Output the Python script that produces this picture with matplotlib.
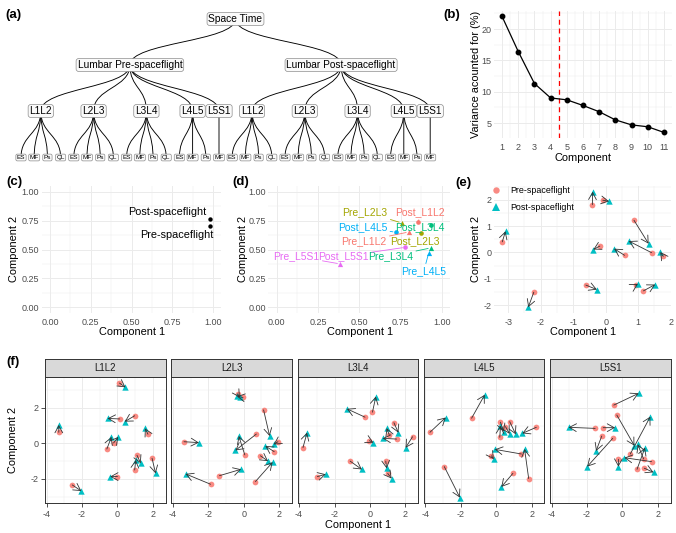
import numpy as np
import matplotlib.pyplot as plt
from matplotlib.path import Path
from matplotlib.patches import PathPatch
from matplotlib.lines import Line2D

plt.rcParams["font.family"] = ["Liberation Sans", "DejaVu Sans"]
plt.rcParams["axes.unicode_minus"] = False

W, H = 676, 533

# ---- (a) feature hierarchy
root_name = "Space Time"
time_names = ["Lumbar Pre-spaceflight", "Lumbar Post-spaceflight"]
segments = ["L1L2", "L2L3", "L3L4", "L4L5", "L5S1"]
muscles = [["ES", "MF", "Ps", "QL"], ["ES", "MF", "Ps", "QL"],
           ["ES", "MF", "Ps", "QL"], ["ES", "MF", "Ps"], ["MF"]]

# ---- (b) scree plot
components = list(range(1, 12))
variance = [22.0, 16.4, 11.3, 9.0, 8.7, 7.8, 6.8, 5.5, 4.7, 4.4, 3.5]
cutoff = 4.5

# ---- (c) space time scores
time_labels = ["Pre-spaceflight", "Post-spaceflight"]
time_c1 = [0.98, 0.98]
time_c2 = [0.700, 0.765]
time_lab_c1 = [0.776, 0.718]
time_lab_c2 = [0.629, 0.828]

# ---- (d) segment scores (pre = triangle, post = circle)
seg_pre_c1 = [0.800, 0.757, 0.933, 0.920, 0.384]
seg_pre_c2 = [0.652, 0.730, 0.514, 0.471, 0.375]
seg_post_c1 = [0.858, 0.873, 0.935, 0.720, 0.778]
seg_post_c2 = [0.739, 0.644, 0.709, 0.649, 0.519]
seg_pre_lab = [(0.529, 0.571), (0.535, 0.825), (0.690, 0.441), (0.890, 0.311), (0.120, 0.441)]
seg_post_lab = [(0.868, 0.825), (0.838, 0.571), (0.868, 0.696), (0.520, 0.696), (0.405, 0.441)]

# ---- (e) subject scores, pre -> post
subj_pre = [(-3.18, 0.40), (-2.21, -1.51), (-0.41, 1.81), (-0.09, 1.98), (0.87, 1.22), (-0.18, 0.24),
            (0.58, -0.11), (1.41, -0.01), (1.77, -0.15), (-0.61, -1.24), (0.92, -1.25), (1.16, -1.46)]
subj_post = [(-3.08, 0.80), (-2.38, -2.08), (-0.40, 2.30), (0.10, 1.94), (1.32, 0.33), (-0.38, 0.11),
             (0.26, 0.14), (0.71, 0.43), (1.68, 0.01), (-0.27, -1.41), (0.99, -1.20), (1.52, -1.22)]

# ---- (f) subject scores per segment, pre -> post
l1l2_pre = [(0.11, 3.39), (0.97, 1.55), (0.13, 1.37), (-3.31, 0.62), (1.72, 0.51), (-0.60, -0.32),
            (-0.22, 0.02), (1.10, -0.67), (0.97, -1.50), (1.95, -0.84), (0.00, -1.87), (-2.55, -2.34)]
l1l2_post = [(0.45, 3.15), (0.41, 1.22), (-0.56, 1.40), (-3.31, 1.03), (1.55, 0.84), (-0.34, 0.36),
             (0.04, 0.36), (1.31, -1.12), (1.03, -0.94), (2.15, -1.69), (-0.41, -1.87), (-2.04, -2.68)]
l2l3_pre = [(-0.35, 2.78), (-0.04, 2.58), (-3.37, 0.09), (1.12, 1.88), (0.71, 0.52), (0.06, -0.65),
            (-1.37, -1.82), (-1.87, -2.30), (0.66, -2.15), (1.93, 0.09), (1.72, -0.47), (0.94, -0.70)]
l2l3_post = [(-0.22, 2.58), (-0.38, 2.64), (-2.53, 0.04), (1.46, 0.41), (-0.47, -0.40), (-0.28, 0.41),
             (-0.15, -1.46), (-3.28, -1.72), (1.63, -1.06), (1.69, -0.06), (1.22, -0.15), (1.37, -1.00)]
l3l4_pre = [(-3.78, -0.24), (-2.97, -1.87), (-0.28, 1.47), (0.14, 1.75), (-1.12, -1.00), (-0.03, 0.15),
            (1.35, 1.16), (1.09, 0.47), (1.50, 0.24), (2.40, 0.37), (0.89, -1.00), (1.00, -1.69)]
l3l4_post = [(-3.55, 0.60), (-2.50, -1.74), (-1.30, 1.94), (0.33, 2.63), (-0.46, -1.47), (0.19, 0.04),
             (1.60, 0.60), (0.94, 0.85), (0.72, 0.28), (2.01, -0.25), (0.94, -1.41), (1.22, -1.98)]
l4l5_pre = [(-3.74, 0.62), (-1.39, 1.41), (-2.93, -1.31), (0.94, -1.69), (1.83, -1.98), (1.42, -0.60),
            (-0.27, -0.70), (2.26, 0.90), (0.20, 0.34), (0.24, 1.19), (0.52, 0.94), (0.76, 1.22)]
l4l5_post = [(-2.85, 1.45), (-0.65, 2.73), (-2.05, -3.05), (0.29, -2.45), (1.60, -0.32), (-0.08, -0.34),
             (-0.14, -0.89), (1.47, 0.56), (0.24, 0.99), (0.42, 0.66), (0.76, 0.53), (1.10, 0.51)]
l5s1_pre = [(-0.49, 2.15), (-0.32, 1.59), (-1.54, 0.84), (-1.09, 0.88), (-1.17, 0.41), (-0.55, 0.28),
            (0.44, -0.60), (-0.23, -0.90), (1.19, -0.88), (1.64, -1.03), (0.82, -1.46), (1.23, -1.40)]
l5s1_post = [(0.91, 2.81), (0.67, -0.13), (-3.04, 0.90), (-0.42, 0.88), (-1.49, -0.43), (-1.99, -1.31),
             (1.57, 1.50), (-0.23, -1.31), (0.86, -0.06), (0.11, -0.81), (1.27, -0.24), (1.75, -1.63)]
facet_pre = [l1l2_pre, l2l3_pre, l3l4_pre, l4l5_pre, l5s1_pre]
facet_post = [l1l2_post, l2l3_post, l3l4_post, l4l5_post, l5s1_post]

SEG_COLORS = ["#F8766D", "#A3A500", "#00BF7D", "#00B0F6", "#E76BF3"]
PRE_COL, POST_COL = "#F8766D", "#00BFC4"
GRID, TICK = "#EBEBEB", "#4D4D4D"

fig = plt.figure(figsize=(W / 100, H / 100), dpi=100)
renderer = fig.canvas.get_renderer()


def px_axes(left, top, right, bottom):
    return fig.add_axes([left / W, 1 - bottom / H, (right - left) / W, (bottom - top) / H])


def put_text(x, y, s, **kw):
    fig.text(x / W, 1 - y / H, s, **kw)


def expand(vals, frac=0.05):
    lo, hi = min(vals), max(vals)
    pad = (hi - lo) * frac
    return lo - pad, hi + pad


def minimal(ax, xmaj, xmin, ymaj, ymin, xlim, ylim, fmt="{:g}"):
    ax.set_xticks(xmaj)
    ax.set_xticks(xmin, minor=True)
    ax.set_yticks(ymaj)
    ax.set_yticks(ymin, minor=True)
    ax.set_xticklabels([fmt.format(v) for v in xmaj])
    ax.set_yticklabels([fmt.format(v) for v in ymaj])
    ax.set_xlim(*xlim)
    ax.set_ylim(*ylim)
    ax.grid(True, which="major", color=GRID, lw=0.7)
    ax.grid(True, which="minor", color=GRID, lw=0.35)
    ax.set_axisbelow(True)
    for sp in ax.spines.values():
        sp.set_visible(False)
    ax.tick_params(which="both", length=0, labelsize=6.5, labelcolor=TICK)
    ax.tick_params(axis="x", pad=3.5)
    ax.tick_params(axis="y", pad=2)


def draw_arrows(ax, pre, post, s_c=17, s_t=21):
    px, py = zip(*pre)
    qx, qy = zip(*post)
    ax.scatter(px, py, s=s_c, color=PRE_COL, alpha=0.85, lw=0, zorder=2)
    ax.scatter(qx, qy, s=s_t, marker="^", color=POST_COL, lw=0, zorder=2)
    for a, b in zip(pre, post):
        ax.annotate("", xy=b, xytext=a,
                    arrowprops=dict(arrowstyle="->,head_length=0.5,head_width=0.28",
                                    color="#333333", lw=0.6, shrinkA=0, shrinkB=0,
                                    mutation_scale=10), zorder=3)


# ---------------- (a) tree
tree_ax = fig.add_axes([0, 0, 1, 1])
tree_ax.set_xlim(0, W)
tree_ax.set_ylim(H, 0)
tree_ax.axis("off")
level_y = [19, 65, 111, 157.5]
leaf_x0, leaf_step = 21, 13.2


def diag(x0, y0, x1, y1):
    ym = (y0 + y1) / 2
    p = Path([(x0, y0), (x0, ym), (x1, ym), (x1, y1)],
             [Path.MOVETO, Path.CURVE4, Path.CURVE4, Path.CURVE4])
    tree_ax.add_patch(PathPatch(p, fc="none", ec="black", lw=0.65, zorder=1))


def node(x, y, s, fs):
    tree_ax.text(x, y, s, ha="center", va="center", fontsize=fs, zorder=3,
                 bbox=dict(boxstyle="round,pad=0.14,rounding_size=0.25", fc="#FAFAFA",
                           ec="#8C8C8C", lw=0.5))


leaf_i = 0
time_x = []
for tname in time_names:
    seg_x = []
    for sname, mus in zip(segments, muscles):
        lx = [leaf_x0 + leaf_step * (leaf_i + k) for k in range(len(mus))]
        leaf_i += len(mus)
        sx = (lx[0] + lx[-1]) / 2
        seg_x.append(sx)
        for x, m in zip(lx, mus):
            diag(sx, level_y[2], x, level_y[3])
            node(x, level_y[3], m, 4.6)
        node(sx, level_y[2], sname, 7.2)
    tx = (seg_x[0] + seg_x[-1]) / 2
    time_x.append(tx)
    for sx in seg_x:
        diag(tx, level_y[1], sx, level_y[2])
    node(tx, level_y[1], tname, 7.3)
rx = (time_x[0] + time_x[-1]) / 2
for tx in time_x:
    diag(rx, level_y[0], tx, level_y[1])
node(rx, level_y[0], root_name, 7.4)

# ---------------- (b) scree
axb = px_axes(494, 10.7, 672, 138.2)
minimal(axb, components, [c + 0.5 for c in components[:-1]], [5, 10, 15, 20],
        [7.5, 12.5, 17.5, 22.5], expand(components), expand(variance))
axb.plot(components, variance, color="black", lw=0.9, marker="o", ms=3.2, zorder=3)
axb.axvline(cutoff, color="#FF0000", ls=(0, (4, 3)), lw=0.9, zorder=2)
put_text(583, 158, "Component", fontsize=7.9, ha="center", va="center")
put_text(476, 74.5, "Variance acounted for (%)", fontsize=7.9, ha="center", va="center",
         rotation=90)

# ---------------- (c) space time
q_ticks = [0, 0.25, 0.5, 0.75, 1.0]
q_minor = [0.125, 0.375, 0.625, 0.875]
axc = px_axes(41.85, 186, 221.2, 313)
minimal(axc, q_ticks, q_minor, q_ticks, q_minor, expand([0, 1]), expand([0, 1]), "{:.2f}")
axc.scatter(time_c1, time_c2, s=10, color="black", lw=0, zorder=3)
for name, lx, ly in zip(time_labels, time_lab_c1, time_lab_c2):
    axc.text(lx, ly, name, fontsize=7.8, ha="center", va="center")

# ---------------- (d) segments
axd = px_axes(268.45, 186, 450.2, 313)
minimal(axd, q_ticks, q_minor, q_ticks, q_minor, expand([0, 1]), expand([0, 1]), "{:.2f}")


def repel_label(ax, pt, lab, text, color):
    t = ax.text(lab[0], lab[1], text, color=color, fontsize=7.5, ha="center", va="center")
    bb = t.get_window_extent(renderer).padded(4)
    p = ax.transData.transform(pt)
    if not bb.contains(*p):
        t.remove()
        ax.annotate(text, xy=pt, xytext=lab, color=color, fontsize=7.5, ha="center",
                    va="center", arrowprops=dict(arrowstyle="-", color=color, lw=0.6,
                                                 shrinkA=0, shrinkB=2))


for i, sname in enumerate(segments):
    c = SEG_COLORS[i]
    axd.scatter(seg_post_c1[i], seg_post_c2[i], s=11, color=c, lw=0, zorder=3)
    axd.scatter(seg_pre_c1[i], seg_pre_c2[i], s=14, marker="^", color=c, lw=0, zorder=3)
for i, sname in enumerate(segments):
    c = SEG_COLORS[i]
    repel_label(axd, (seg_pre_c1[i], seg_pre_c2[i]), seg_pre_lab[i], "Pre_" + sname, c)
    repel_label(axd, (seg_post_c1[i], seg_post_c2[i]), seg_post_lab[i], "Post_" + sname, c)

# ---------------- (e) subjects
all_e = subj_pre + subj_post
axe = px_axes(494.2, 186, 671.3, 313)
minimal(axe, [-3, -2, -1, 0, 1, 2], [-2.5, -1.5, -0.5, 0.5, 1.5],
        [-2, -1, 0, 1, 2], [-1.5, -0.5, 0.5, 1.5, 2.5],
        expand([p[0] for p in all_e]), expand([p[1] for p in all_e]))
draw_arrows(axe, subj_pre, subj_post)
handles = [Line2D([], [], ls="", marker="o", ms=4.6, color=PRE_COL, alpha=0.85, mew=0),
           Line2D([], [], ls="", marker="^", ms=5.2, color=POST_COL, mew=0)]
fig.legend(handles, ["Pre-spaceflight", "Post-spaceflight"], loc="upper left",
           bbox_to_anchor=(491 / W, 1 - 185 / H), frameon=False, fontsize=6.4,
           handlelength=0.9, handletextpad=1.2, labelspacing=0.95, borderpad=0.1,
           borderaxespad=0)

for ax_x, ax in [(14, axc), (243.5, axd), (476, axe)]:
    put_text(ax_x, 249.5, "Component 2", fontsize=7.9, ha="center", va="center", rotation=90)
for cx in [132, 360, 583]:
    put_text(cx, 332, "Component 1", fontsize=7.9, ha="center", va="center")

# ---------------- (f) facets
all_f = [p for grp in facet_pre + facet_post for p in grp]
fx = expand([p[0] for p in all_f])
fy = expand([p[1] for p in all_f])
for i, sname in enumerate(segments):
    left = 45 + 126.25 * i
    ax = px_axes(left, 377.3, left + 120.5, 503.3)
    ax.set_xticks([-4, -2, 0, 2])
    ax.set_xticks([-3, -1, 1], minor=True)
    ax.set_yticks([-2, 0, 2])
    ax.set_yticks([-3, -1, 1, 3], minor=True)
    ax.set_xlim(*fx)
    ax.set_ylim(*fy)
    ax.grid(True, which="major", color=GRID, lw=0.7)
    ax.grid(True, which="minor", color=GRID, lw=0.35)
    ax.set_axisbelow(True)
    for sp in ax.spines.values():
        sp.set_color("#333333")
        sp.set_linewidth(0.7)
    ax.tick_params(which="major", length=2.75, width=0.6, color="#333333", labelsize=6.5,
                   labelcolor=TICK, pad=1.8)
    ax.tick_params(which="minor", length=0)
    if i > 0:
        ax.tick_params(axis="y", which="both", left=False, labelleft=False)
    draw_arrows(ax, facet_pre[i], facet_post[i])

    strip = px_axes(left, 359.3, left + 120.5, 377.3)
    strip.set_facecolor("#D9D9D9")
    strip.set_xticks([])
    strip.set_yticks([])
    for sp in strip.spines.values():
        sp.set_color("#333333")
        sp.set_linewidth(0.7)
    strip.text(0.5, 0.5, sname, transform=strip.transAxes, ha="center", va="center",
               fontsize=7.0, color="#1A1A1A")

put_text(358, 525, "Component 1", fontsize=7.9, ha="center", va="center")
put_text(13, 440, "Component 2", fontsize=7.9, ha="center", va="center", rotation=90)

# ---------------- panel tags
for tag, x, y in [("(a)", 5, 15), ("(b)", 443, 15), ("(c)", 6, 182), ("(d)", 232, 182),
                  ("(e)", 455, 183), ("(f)", 6, 362)]:
    put_text(x, y, tag, fontsize=9.5, fontweight="bold", ha="left", va="center")

fig.savefig("out.png", dpi=100)
